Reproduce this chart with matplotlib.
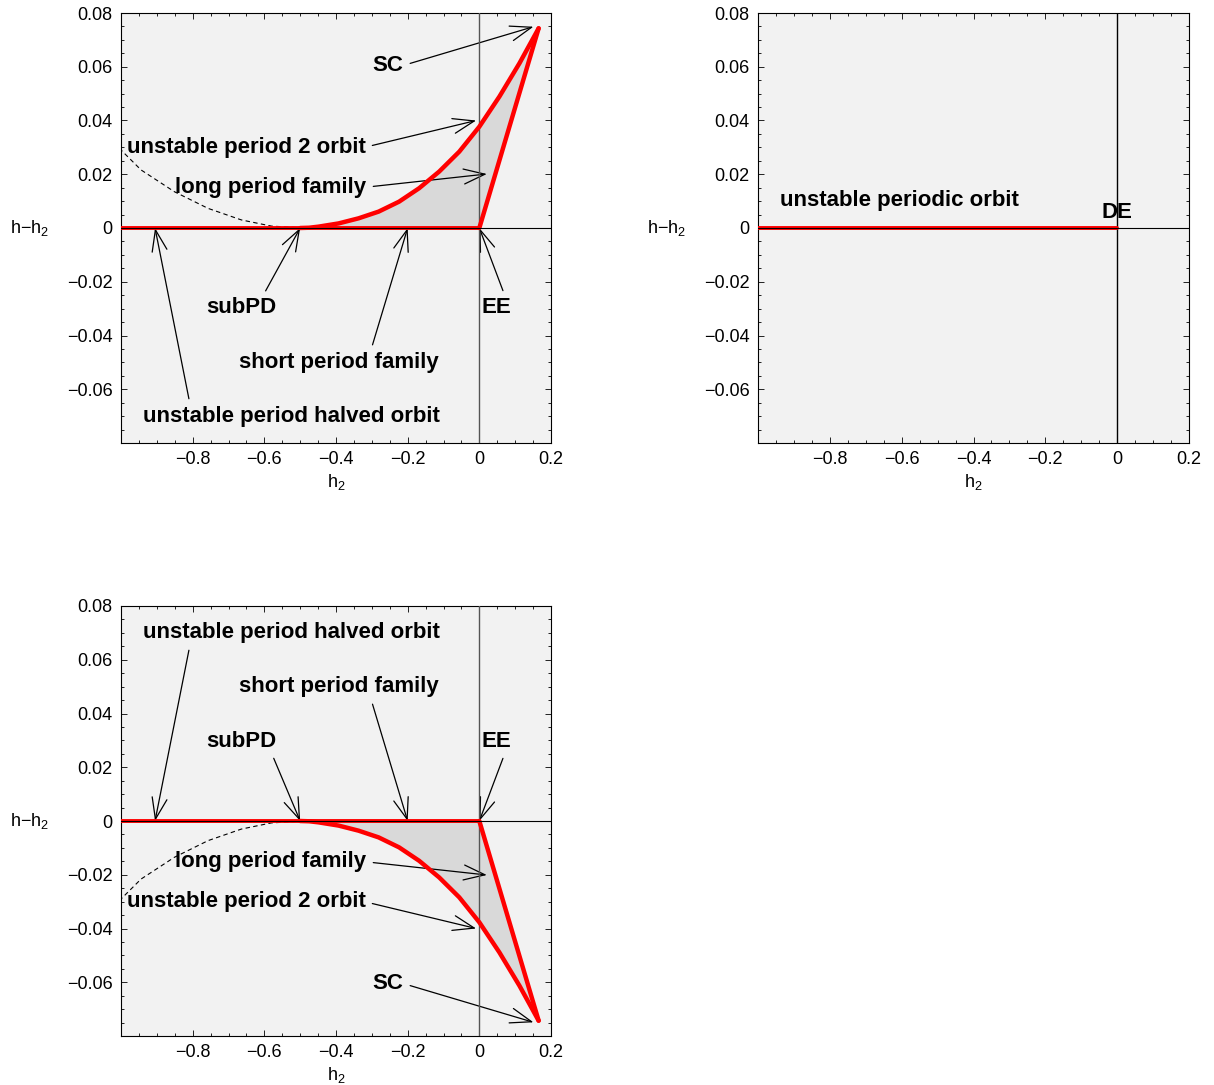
import numpy as np
import matplotlib
matplotlib.use("Agg")
import matplotlib.pyplot as plt
from matplotlib.ticker import MultipleLocator

plt.rcParams['font.family'] = ['Liberation Sans', 'DejaVu Sans']
plt.rcParams['mathtext.default'] = 'regular'

# === data
# unstable period 2 orbit (upper branch, h - h2 > 0)
p2_x = [-0.5, -0.475, -0.449, -0.393, -0.337, -0.281, -0.224, -0.168, -0.112, -0.056,
        0.0, 0.056, 0.112, 0.1655]
p2_y = [0.0, 0.0001, 0.0005, 0.0017, 0.0036, 0.0061, 0.0098, 0.0148, 0.0210, 0.0284,
        0.0377, 0.0489, 0.0613, 0.0743]
# long period family (straight segment EE -> SC)
lp_x = [0.0, 0.1655]
lp_y = [0.0, 0.0743]
# short period family / unstable period halved orbit on h = h2
sp_x = [-1.0, 0.0]
sp_y = [0.0, 0.0]
# dashed curve
dash_x = [-1.005, -0.944, -0.851, -0.757, -0.664, -0.58, -0.514]
dash_y = [0.0297, 0.0216, 0.0135, 0.0073, 0.003, 0.0007, 0.0002]

xticks = [-0.8, -0.6, -0.4, -0.2, 0.0, 0.2]
xticklabels = ['\u22120.8', '\u22120.6', '\u22120.4', '\u22120.2', '0', '0.2']
yticks = [-0.06, -0.04, -0.02, 0.0, 0.02, 0.04, 0.06, 0.08]
yticklabels = ['\u22120.06', '\u22120.04', '\u22120.02', '0', '0.02', '0.04', '0.06', '0.08']

BG = '#f2f2f2'
SHADE = '#d9d9d9'
RED = '#ff0000'
TXT = dict(fontsize=16, fontweight='bold', ha='center', va='center')


def arrow(relpos):
    return dict(arrowstyle='->,head_length=0.85,head_width=0.3', mutation_scale=18,
                lw=0.9, color='black', shrinkA=3, shrinkB=0, relpos=relpos)


def setup(ax, vline_color):
    ax.set_facecolor(BG)
    ax.set_xlim(-1.0, 0.2)
    ax.set_ylim(-0.08, 0.08)
    ax.set_xticks(xticks)
    ax.set_xticklabels(xticklabels)
    ax.set_yticks(yticks)
    ax.set_yticklabels(yticklabels)
    ax.xaxis.set_minor_locator(MultipleLocator(0.05))
    ax.yaxis.set_minor_locator(MultipleLocator(0.005))
    ax.tick_params(which='both', direction='in', top=True, right=True, width=0.6, labelsize=13, pad=6)
    ax.tick_params(which='major', length=4)
    ax.tick_params(which='minor', length=2)
    for s in ax.spines.values():
        s.set_linewidth(0.8)
    ax.set_xlabel('h$_2$', fontsize=13)
    ax.xaxis.set_label_coords(0.5, -0.068)
    ax.xaxis.label.set_va('top')
    ax.set_ylabel('h\u2212h$_2$', fontsize=13, rotation=0, ha='center', va='center')
    ax.yaxis.set_label_coords(-0.212, 0.5)
    ax.axvline(0, color=vline_color, lw=1.0, zorder=4)


def bifurcation_panel(ax, sign):
    setup(ax, '#555555')
    cy = [sign * v for v in p2_y]
    ly = [sign * v for v in lp_y]
    dy = [sign * v for v in dash_y]
    # shaded region between the two families
    poly_x = p2_x + lp_x[::-1] + [p2_x[0]]
    poly_y = cy + ly[::-1] + [0.0]
    ax.fill(poly_x, poly_y, color=SHADE, lw=0, zorder=2)
    ax.plot(dash_x, dy, color='black', lw=0.8, ls=(0, (4, 3)), zorder=3)
    ax.plot(sp_x, sp_y, color=RED, lw=2.8, solid_capstyle='round', zorder=5)
    ax.axhline(0, color='black', lw=0.8, zorder=6)
    ax.plot(p2_x, cy, color=RED, lw=3.2, solid_capstyle='round', solid_joinstyle='round', zorder=5)
    ax.plot(lp_x, ly, color=RED, lw=3.2, solid_capstyle='round', zorder=5)

    ax.annotate('SC', xy=(0.151, sign * 0.0749), xytext=(-0.255, sign * 0.0605),
                arrowprops=arrow((1.0, 0.5)), **TXT)
    ax.annotate('unstable period 2 orbit', xy=(-0.009, sign * 0.0400), xytext=(-0.651, sign * 0.0301),
                arrowprops=arrow((1.0, 0.5)), **TXT)
    ax.annotate('long period family', xy=(0.021, sign * 0.0201), xytext=(-0.582, sign * 0.0152),
                arrowprops=arrow((1.0, 0.5)), **TXT)
    rp = 0.0 if sign > 0 else 1.0
    ax.annotate('subPD', xy=(-0.5, 0.0), xytext=(-0.665, -sign * 0.0297),
                arrowprops=arrow((0.8, rp if sign < 0 else 1.0)), **TXT)
    ax.annotate('short period family', xy=(-0.2, 0.0), xytext=(-0.393, -sign * 0.0499),
                arrowprops=arrow((0.66, 1.0 if sign > 0 else 0.0)), **TXT)
    ax.annotate('unstable period halved orbit', xy=(-0.905, 0.0), xytext=(-0.525, -sign * 0.0700),
                arrowprops=arrow((0.16, 1.0 if sign > 0 else 0.0)), **TXT)
    ax.annotate('EE', xy=(0.0, 0.0), xytext=(0.048, -sign * 0.0297),
                arrowprops=arrow((0.8, 1.0 if sign > 0 else 0.0)), **TXT)


fig = plt.figure(figsize=(12.14, 10.85), dpi=100)
W, H = 1214, 1085
ax1 = fig.add_axes([121 / W, 1 - 443 / H, 430 / W, 430 / H])
ax2 = fig.add_axes([758 / W, 1 - 443 / H, 431 / W, 430 / H])
ax3 = fig.add_axes([121 / W, 1 - 1036 / H, 430 / W, 430 / H])

bifurcation_panel(ax1, 1)
bifurcation_panel(ax3, -1)

# === top-right panel: degenerate case
setup(ax2, 'black')
ax2.plot(sp_x, sp_y, color=RED, lw=2.8, solid_capstyle='round', zorder=5)
ax2.axhline(0, color='black', lw=0.8, zorder=6)
ax2.text(-0.606, 0.0104, 'unstable periodic orbit', **TXT)
ax2.text(0.0, 0.0056, 'DE', **TXT)

fig.savefig('out.png', dpi=100)
